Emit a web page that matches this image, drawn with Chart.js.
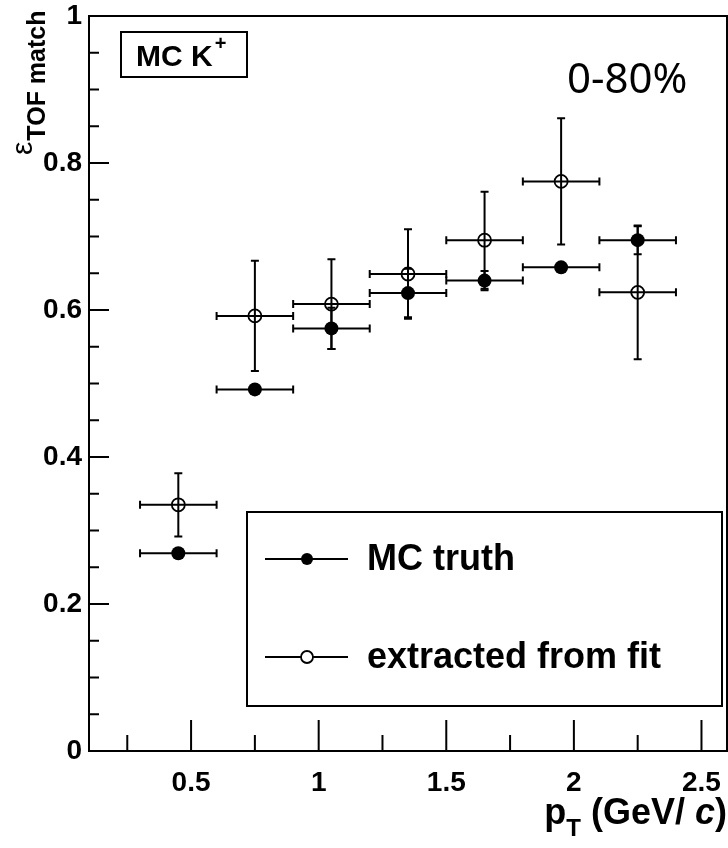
<!DOCTYPE html>
<html>
<head>
<meta charset="utf-8">
<title>TOF matching efficiency, MC K+</title>
<script src="https://cdn.jsdelivr.net/npm/chart.js@4.4.1/dist/chart.umd.min.js"></script>
<style>
  html, body { margin: 0; padding: 0; background: #fff; }
  canvas { display: block; }
</style>
</head>
<body>
<canvas id="effChart" width="728" height="848"></canvas>
<script>
// pT bins (GeV/c): centres and half widths
const ptCenters = [0.45, 0.75, 1.05, 1.35, 1.65, 1.95, 2.25];
const ptHalfWidth = [0.15, 0.15, 0.15, 0.15, 0.15, 0.15, 0.15];

// matching efficiency from MC truth
const mcTruth = [0.269, 0.492, 0.575, 0.623, 0.640, 0.658, 0.695];
const mcTruthErr = [0.006, 0.006, 0.028, 0.033, 0.013, 0.005, 0.019];

// efficiency extracted from the fit
const fitEff = [0.335, 0.592, 0.608, 0.649, 0.695, 0.775, 0.624];
const fitEffErr = [0.043, 0.075, 0.061, 0.061, 0.066, 0.086, 0.091];

const seriesNames = ["MC truth", "extracted from fit"];
const xTickLabels = [0.5, 1, 1.5, 2, 2.5];
const yTickLabels = [0, 0.2, 0.4, 0.6, 0.8, 1];
const centralityLabel = "0-80%";

const boldFont = "'Liberation Sans', Arial, sans-serif";

function toPoints(ys, yErrs) {
    return ptCenters.map(function (x, i) {
        return { x: x, y: ys[i], xErr: ptHalfWidth[i], yErr: yErrs[i] };
    });
}

// keep the plot frame where it is: no extra room for edge labels
function noLabelPadding(scale) {
    scale.paddingLeft = 0;
    scale.paddingRight = 0;
    scale.paddingTop = 0;
    scale.paddingBottom = 0;
}

// error bars with small end caps, drawn under the markers
const errorBars = {
    id: "errorBars",
    beforeDatasetsDraw(chart) {
        const ctx = chart.ctx;
        const xs = chart.scales.x;
        const ys = chart.scales.y;
        const cap = 4;
        ctx.save();
        ctx.strokeStyle = "#000";
        ctx.lineWidth = 2;
        chart.data.datasets.forEach(function (ds) {
            const r = ds.pointRadius;
            ds.data.forEach(function (p) {
                const px = xs.getPixelForValue(p.x);
                const py = ys.getPixelForValue(p.y);
                const x0 = xs.getPixelForValue(p.x - p.xErr);
                const x1 = xs.getPixelForValue(p.x + p.xErr);
                const yTop = ys.getPixelForValue(p.y + p.yErr);
                const yBot = ys.getPixelForValue(p.y - p.yErr);

                ctx.beginPath();
                ctx.moveTo(x0, py); ctx.lineTo(x1, py);
                ctx.moveTo(x0, py - cap); ctx.lineTo(x0, py + cap);
                ctx.moveTo(x1, py - cap); ctx.lineTo(x1, py + cap);
                if (py - yTop > r) {
                    ctx.moveTo(px, yTop); ctx.lineTo(px, yBot);
                    ctx.moveTo(px - cap, yTop); ctx.lineTo(px + cap, yTop);
                    ctx.moveTo(px - cap, yBot); ctx.lineTo(px + cap, yBot);
                }
                ctx.stroke();
            });
        });
        ctx.restore();
    }
};

// frame, inward ticks, labels, legend box
const decorations = {
    id: "decorations",
    afterDatasetsDraw(chart) {
        const ctx = chart.ctx;
        const area = chart.chartArea;
        const xs = chart.scales.x;
        const ys = chart.scales.y;
        ctx.save();
        ctx.strokeStyle = "#000";
        ctx.fillStyle = "#000";
        ctx.lineWidth = 2;

        // frame
        ctx.strokeRect(area.left, area.top, area.right - area.left, area.bottom - area.top);

        // x ticks every 0.25, long ones on the labelled values
        ctx.beginPath();
        for (let i = 1; i * 0.25 <= xs.max; i++) {
            const v = i * 0.25;
            if (v < xs.min) continue;
            const px = xs.getPixelForValue(v);
            const len = i % 2 === 0 ? 31 : 16;
            ctx.moveTo(px, area.bottom);
            ctx.lineTo(px, area.bottom - len);
        }
        // y ticks every 0.05
        for (let j = 1; j < 20; j++) {
            const py = ys.getPixelForValue(j * 0.05);
            const len = j % 4 === 0 ? 20 : 10;
            ctx.moveTo(area.left, py);
            ctx.lineTo(area.left + len, py);
        }
        ctx.stroke();

        // particle label box
        const bx = area.left + 32, by = area.top + 16;
        ctx.strokeRect(bx, by, 126, 45);
        ctx.font = "bold 30px " + boldFont;
        ctx.textBaseline = "alphabetic";
        ctx.textAlign = "left";
        ctx.fillText("MC K", bx + 15, by + 34);
        const kw = ctx.measureText("MC K").width;
        ctx.font = "bold 20px " + boldFont;
        ctx.fillText("+", bx + 17 + kw, by + 18);

        // centrality
        ctx.font = "42px 'Noto Sans', 'Open Sans', sans-serif";
        ctx.fillText(centralityLabel, area.right - 160, area.top + 77);

        // legend
        const lx = area.right - 480, ly = area.top + 496;
        ctx.strokeRect(lx, ly, 475, 194);
        const rows = [ly + 47, ly + 145];
        chart.data.datasets.forEach(function (ds, i) {
            const yy = rows[i];
            ctx.beginPath();
            ctx.moveTo(lx + 18, yy);
            ctx.lineTo(lx + 101, yy);
            ctx.stroke();
            ctx.beginPath();
            ctx.arc(lx + 60, yy, 6, 0, Math.PI * 2);
            if (ds.pointBackgroundColor === "#000") {
                ctx.fill();
            } else {
                ctx.fillStyle = "#fff";
                ctx.fill();
                ctx.fillStyle = "#000";
                ctx.lineWidth = 1.8;
                ctx.stroke();
                ctx.lineWidth = 2;
            }
            ctx.font = "bold 36px " + boldFont;
            ctx.textBaseline = "middle";
            ctx.fillText(seriesNames[i], lx + 120, yy + 1);
        });

        // x axis title: p_T (GeV/c), right aligned to the frame
        ctx.textBaseline = "alphabetic";
        const tBase = area.bottom + 73;
        const parts = [
            { t: "p", f: "bold 36px " + boldFont, dy: 0 },
            { t: "T", f: "bold 24px " + boldFont, dy: 12 },
            { t: " (GeV/ ", f: "bold 36px " + boldFont, dy: 0 },
            { t: "c", f: "italic bold 36px " + boldFont, dy: 0 },
            { t: ")", f: "bold 36px " + boldFont, dy: 0 }
        ];
        let total = 0;
        parts.forEach(function (p) { ctx.font = p.f; p.w = ctx.measureText(p.t).width; total += p.w; });
        let cx = area.right - total;
        parts.forEach(function (p) {
            ctx.font = p.f;
            ctx.fillText(p.t, cx, tBase + p.dy);
            cx += p.w;
        });

        // y axis title: epsilon_TOF match, rotated
        ctx.translate(32, area.top + 139);
        ctx.rotate(-Math.PI / 2);
        ctx.font = "30px " + boldFont;
        ctx.fillText("\u03b5", 0, 0);
        const ew = ctx.measureText("\u03b5").width;
        ctx.font = "bold 25px " + boldFont;
        ctx.fillText("TOF match", ew + 1, 13);

        ctx.restore();
    }
};

const tickFont = { family: boldFont, size: 28, weight: "bold", lineHeight: 1 };

// invisible outside tick marks: they only space the labels from the frame
function spacerGrid(len) {
    return {
        display: true,
        drawOnChartArea: false,
        drawTicks: true,
        tickLength: len,
        tickColor: "rgba(0,0,0,0)"
    };
}

new Chart(document.getElementById("effChart"), {
    type: "scatter",
    data: {
        datasets: [{
            label: seriesNames[0],
            data: toPoints(mcTruth, mcTruthErr),
            pointStyle: "circle",
            pointRadius: 7,
            pointBackgroundColor: "#000",
            pointBorderColor: "#000",
            pointBorderWidth: 0,
            showLine: false
        }, {
            label: seriesNames[1],
            data: toPoints(fitEff, fitEffErr),
            pointStyle: "circle",
            pointRadius: 6.5,
            pointBackgroundColor: "rgba(0,0,0,0)",
            pointBorderColor: "#000",
            pointBorderWidth: 1.8,
            showLine: false
        }]
    },
    options: {
        responsive: false,
        animation: false,
        layout: {
            autoPadding: false,
            padding: { top: 16, right: 1, left: 0, bottom: 0 }
        },
        plugins: {
            legend: { display: false },
            tooltip: { enabled: false }
        },
        scales: {
            x: {
                type: "linear",
                min: 0.1,
                max: 2.6,
                grid: spacerGrid(18),
                border: { display: false },
                afterBuildTicks: function (scale) {
                    scale.ticks = xTickLabels.map(function (v) { return { value: v }; });
                },
                afterFit: function (scale) {
                    scale.height = 97;
                    noLabelPadding(scale);
                },
                ticks: {
                    autoSkip: false,
                    maxRotation: 0,
                    padding: 0,
                    color: "#000",
                    font: tickFont,
                    callback: function (v) { return String(v); }
                }
            },
            y: {
                type: "linear",
                min: 0,
                max: 1,
                grid: spacerGrid(7),
                border: { display: false },
                afterBuildTicks: function (scale) {
                    scale.ticks = yTickLabels.map(function (v) { return { value: v }; });
                },
                afterFit: function (scale) {
                    scale.width = 89;
                    noLabelPadding(scale);
                },
                ticks: {
                    autoSkip: false,
                    padding: 0,
                    color: "#000",
                    font: tickFont,
                    callback: function (v) { return String(v); }
                }
            }
        }
    },
    plugins: [errorBars, decorations]
});
</script>
</body>
</html>
